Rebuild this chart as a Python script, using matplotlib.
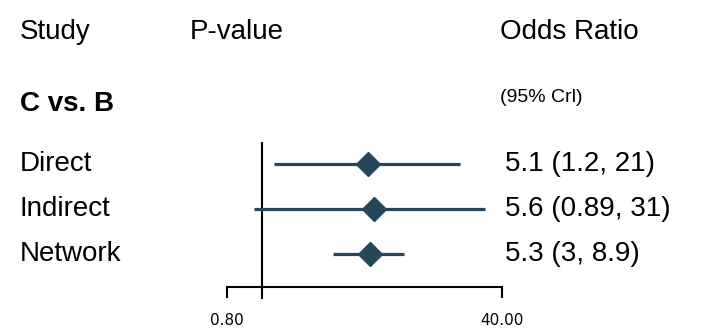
import matplotlib
matplotlib.use("Agg")
import matplotlib.pyplot as plt
import matplotlib.transforms as mtransforms
from matplotlib.ticker import FixedLocator, FixedFormatter

# ---- data ----
comparison = "C vs. B"
studies = ["Direct", "Indirect", "Network"]
odds_ratio = [5.1, 5.6, 5.3]
ci_low = [1.2, 0.89, 3.0]
ci_high = [21, 31, 8.9]
ci_text = ["5.1 (1.2, 21)", "5.6 (0.89, 31)", "5.3 (3, 8.9)"]
axis_limits = [0.584, 40.0]
tick_labels = ["0.80", "40.00"]
ref_value = 1.0

COLOR = "#24475A"
FONT = ["Liberation Sans", "DejaVu Sans"]

W, H, DPI = 720, 331, 100
fig = plt.figure(figsize=(W / DPI, H / DPI), dpi=DPI)

# axes placement in pixels
ax_left, ax_right = 227, 502
ax_top, ax_bottom = 143, 287
ax = fig.add_axes([ax_left / W, 1 - ax_bottom / H,
                   (ax_right - ax_left) / W, (ax_bottom - ax_top) / H])
ax.set_xscale("log")
ax.set_xlim(axis_limits)
ypos = list(range(len(studies)))
ax.set_ylim(2.733, -0.467)

for y, m, lo, hi in zip(ypos, odds_ratio, ci_low, ci_high):
    ax.plot([lo, hi], [y, y], color=COLOR, lw=2.3, solid_capstyle="butt", zorder=2)
    ax.plot([m], [y], marker="D", ms=12, color=COLOR, zorder=3)

ax.axvline(ref_value, ymin=-0.076, ymax=1, color="black", lw=1.5, clip_on=False, zorder=1)

for s in ["top", "right", "left"]:
    ax.spines[s].set_visible(False)
ax.spines["bottom"].set_linewidth(1.5)
ax.yaxis.set_visible(False)
ax.xaxis.set_major_locator(FixedLocator(axis_limits))
ax.xaxis.set_major_formatter(FixedFormatter(tick_labels))
ax.xaxis.set_minor_locator(FixedLocator([]))
ax.tick_params(axis="x", direction="out", length=8, width=1.5, pad=11,
               labelsize=11, labelfontfamily="DejaVu Sans")
ax.patch.set_alpha(0)

# text
trans_rows = mtransforms.blended_transform_factory(fig.transFigure, ax.transData)
for y, name, txt in zip(ypos, studies, ci_text):
    fig.text(20 / W, y, name, transform=trans_rows, ha="left", va="center",
             fontsize=20, family=FONT)
    fig.text(505 / W, y, txt, transform=trans_rows, ha="left", va="center",
             fontsize=20, family=FONT)

fig.text(20 / W, 1 - 32 / H, "Study", ha="left", va="center", fontsize=20, family=FONT)
fig.text(190 / W, 1 - 32 / H, "P-value", ha="left", va="center", fontsize=20, family=FONT)
fig.text(500 / W, 1 - 32 / H, "Odds Ratio", ha="left", va="center", fontsize=20, family=FONT)
fig.text(500 / W, 1 - 98 / H, "(95% Crl)", ha="left", va="center", fontsize=14, family=FONT)
fig.text(20 / W, 1 - 104 / H, comparison, ha="left", va="center", fontsize=20,
         fontweight="bold", family=FONT)

fig.savefig("out.png", dpi=DPI)
